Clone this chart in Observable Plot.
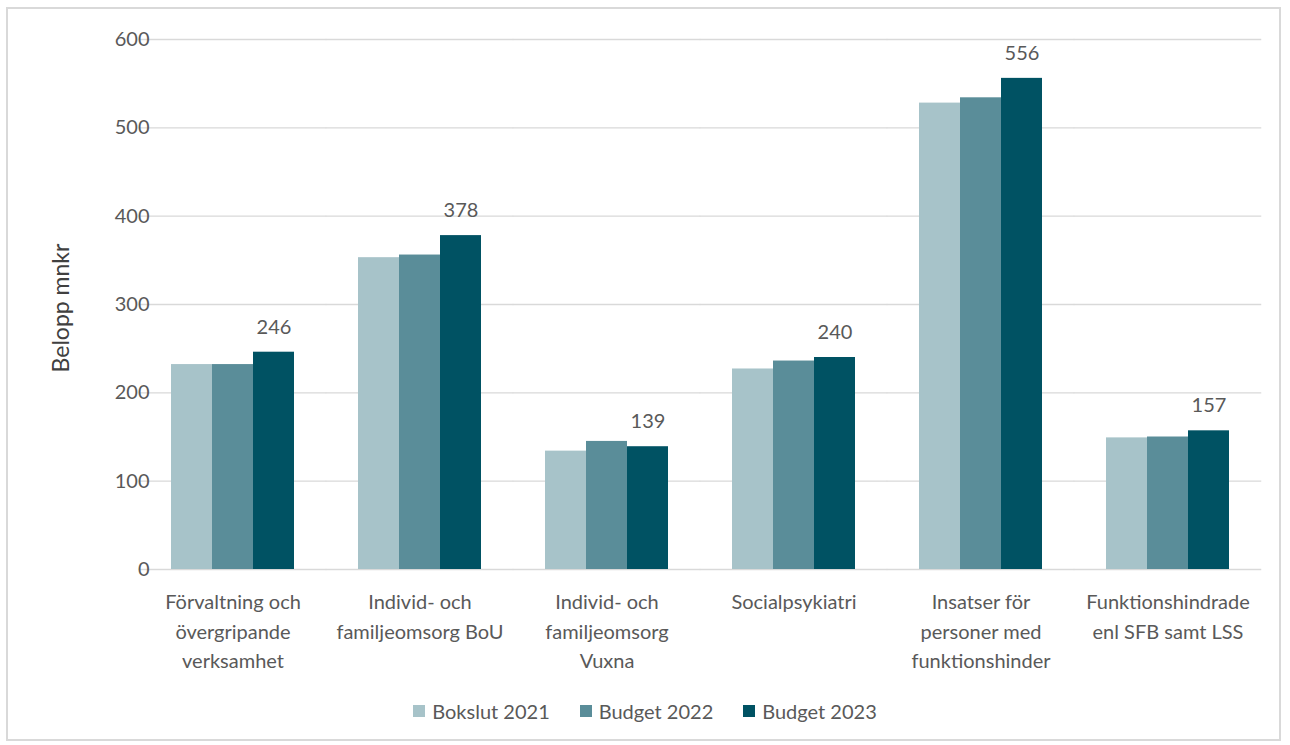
<!DOCTYPE html>
<html>
<head>
<meta charset="utf-8">
<script src="https://cdn.jsdelivr.net/npm/d3@7"></script>
<script src="https://cdn.jsdelivr.net/npm/@observablehq/plot@0.6"></script>
<style>
  html, body { margin: 0; padding: 0; background: #fff; }
  body { width: 1290px; height: 745px; position: relative; overflow: hidden; font-family: Lato, "Open Sans", sans-serif; }
  #frame { position: absolute; left: 6px; top: 7px; width: 1275px; height: 734px; border: 2px solid #d9d9d9; box-sizing: border-box; }
  #chart { position: absolute; left: 0; top: 0; }
  #ytitle { position: absolute; left: 60px; top: 308px; transform: translate(-50%, -50%) rotate(-90deg); white-space: nowrap; font-size: 23px; color: #404040; }
  #legend { position: absolute; left: 0; top: 699px; width: 1290px; display: flex; justify-content: center; gap: 30px; font-size: 20px; color: #595959; }
  #legend .item { display: flex; align-items: center; gap: 7px; }
  #legend .sw { width: 12px; height: 12px; display: inline-block; }
</style>
</head>
<body>
<div id="frame"></div>
<div id="chart"></div>
<div id="ytitle"></div>
<div id="legend"></div>
<script>
const categories = [
  "Förvaltning och\növergripande\nverksamhet",
  "Individ- och\nfamiljeomsorg BoU",
  "Individ- och\nfamiljeomsorg\nVuxna",
  "Socialpsykiatri",
  "Insatser för\npersoner med\nfunktionshinder",
  "Funktionshindrade\nenl SFB samt LSS"
];
const seriesNames = ["Bokslut 2021", "Budget 2022", "Budget 2023"];
const bokslut2021 = [232, 353, 134, 227, 528, 149];
const budget2022  = [232, 356, 145, 236, 534, 150];
const budget2023  = [246, 378, 139, 240, 556, 157];
const seriesColors = ["#a7c3c9", "#5a8d99", "#005263"];
const yTicks = [0, 100, 200, 300, 400, 500, 600];
const yLabel = "Belopp mnkr";

const seriesValues = [bokslut2021, budget2022, budget2023];
const data = categories.flatMap((c, i) =>
  seriesNames.map((s, j) => ({category: c, series: s, value: seriesValues[j][i]}))
);

const chart = Plot.plot({
  width: 1290,
  height: 680,
  marginTop: 39,
  marginLeft: 137,
  marginRight: 28,
  marginBottom: 111,
  style: {fontFamily: "Lato, 'Open Sans', sans-serif", fontSize: "20px", color: "#595959", background: "transparent"},
  fx: {domain: categories, paddingInner: 1/3, paddingOuter: 1/6, axis: null, label: null},
  x: {domain: seriesNames, padding: 0, axis: null},
  y: {domain: [0, 600], axis: null, label: null},
  color: {domain: seriesNames, range: seriesColors},
  marks: [
    Plot.ruleY(yTicks, {stroke: "#d9d9d9", strokeWidth: 1.3, insetLeft: -31.25, insetRight: -31.25}),
    Plot.axisY(yTicks, {tickSize: 0, tickPadding: 21, fill: "#595959", fontSize: 20, label: null}),
    Plot.barY(data, {fx: "category", x: "series", y: "value", fill: "series"}),
    Plot.text(data.filter(d => d.series === "Budget 2023"), {
      fx: "category", x: "series", y: "value", text: d => String(d.value),
      dy: -25, fill: "#595959", fontSize: 20
    }),
    Plot.axisFx({anchor: "bottom", tickSize: 0, tickPadding: 19, lineHeight: 1.47, fill: "#595959", fontSize: 20, label: null})
  ]
});
document.getElementById("chart").appendChild(chart);
document.getElementById("ytitle").textContent = yLabel;

const legend = document.getElementById("legend");
seriesNames.forEach((s, i) => {
  const item = document.createElement("div");
  item.className = "item";
  const sw = document.createElement("span");
  sw.className = "sw";
  sw.style.background = seriesColors[i];
  const t = document.createElement("span");
  t.textContent = s;
  item.appendChild(sw);
  item.appendChild(t);
  legend.appendChild(item);
});
</script>
</body>
</html>
